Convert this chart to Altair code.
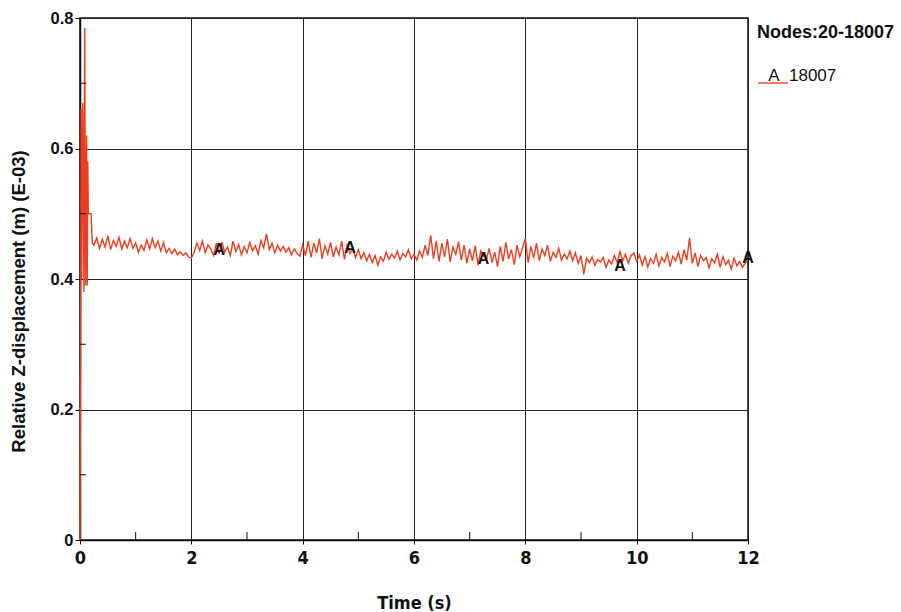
import altair as alt
import numpy as np
import pandas as pd

# Start-up transient of node 18007 (time in s, displacement in E-03 m)
transient_t = [0.0, 0.01, 0.02, 0.03, 0.05, 0.07, 0.085, 0.10, 0.12, 0.13, 0.14, 0.15, 0.20, 0.22]
transient_v = [0.0, 0.27, 0.66, 0.40, 0.67, 0.38, 0.785, 0.39, 0.62, 0.39, 0.58, 0.50, 0.50, 0.455]

# Settled response, sampled every 0.05 s from 0.25 s to 12.0 s
steady_start, steady_step = 0.25, 0.05
steady_v = [
    0.452, 0.463, 0.447, 0.461, 0.449, 0.466, 0.445, 0.459, 0.450, 0.464, 0.446, 0.458, 0.448, 0.462, 0.447,
    0.455, 0.441, 0.452, 0.444, 0.460, 0.446, 0.462, 0.448, 0.458, 0.443, 0.456, 0.440, 0.447, 0.439, 0.446, 0.437, 0.442, 0.436, 0.440, 0.434,
    0.432, 0.441, 0.455, 0.444, 0.458, 0.440, 0.452, 0.446, 0.436, 0.455, 0.439, 0.457, 0.441, 0.449, 0.436, 0.458, 0.442, 0.453, 0.437, 0.450,
    0.440, 0.456, 0.443, 0.451, 0.438, 0.459, 0.448, 0.469, 0.445, 0.455, 0.440, 0.452, 0.443, 0.450, 0.441, 0.448, 0.437, 0.446, 0.439, 0.435,
    0.452, 0.436, 0.458, 0.433, 0.455, 0.440, 0.462, 0.431, 0.451, 0.438, 0.456, 0.434, 0.449, 0.437, 0.458, 0.430, 0.452, 0.439, 0.447, 0.433,
    0.445, 0.431, 0.440, 0.428, 0.438, 0.425, 0.436, 0.421, 0.434, 0.427, 0.441, 0.430, 0.438, 0.432, 0.443, 0.429, 0.439, 0.434, 0.445, 0.431,
    0.438, 0.429, 0.443, 0.433, 0.452, 0.436, 0.467, 0.431, 0.458, 0.427, 0.455, 0.434, 0.461, 0.426, 0.449, 0.438, 0.457, 0.429, 0.452, 0.424,
    0.446, 0.428, 0.451, 0.421, 0.443, 0.435, 0.430, 0.447, 0.425, 0.441, 0.419, 0.450, 0.427, 0.456, 0.431, 0.445, 0.422, 0.452, 0.434, 0.448,
    0.462, 0.425, 0.450, 0.432, 0.455, 0.428, 0.446, 0.436, 0.452, 0.427, 0.441, 0.433, 0.447, 0.429, 0.438, 0.431, 0.443, 0.428, 0.440, 0.424,
    0.436, 0.407, 0.432, 0.425, 0.434, 0.421, 0.430, 0.426, 0.433, 0.418, 0.429, 0.423, 0.436, 0.425, 0.442, 0.428, 0.438, 0.424, 0.436, 0.440,
    0.427, 0.437, 0.421, 0.434, 0.418, 0.431, 0.424, 0.438, 0.420, 0.433, 0.426, 0.439, 0.419, 0.435, 0.428, 0.441, 0.423, 0.445, 0.429, 0.463,
    0.424, 0.440, 0.419, 0.436, 0.428, 0.433, 0.417, 0.431, 0.425, 0.438, 0.418, 0.434, 0.422, 0.429, 0.415, 0.432, 0.420, 0.427, 0.418, 0.424,
    0.431,
]

# Curve identifier letters placed along the trace
marker_t = [2.5, 4.85, 7.25, 9.7, 12.0]
marker_v = [0.444, 0.447, 0.430, 0.420, 0.432]
marker_label = "A"

# Minor tick positions
x_minor = [1, 3, 5, 7, 9, 11]
y_minor = [0.1, 0.3, 0.5, 0.7]

legend_header = "Nodes:20-18007"
legend_entry = "18007"

steady_t = [round(steady_start + i * steady_step, 3) for i in range(len(steady_v))]
curve = pd.DataFrame({"t": transient_t + steady_t, "v": transient_v + steady_v})
markers = pd.DataFrame({"t": marker_t, "v": marker_v, "label": [marker_label] * len(marker_t)})

W, H = 668, 522
RED = "#ee3d1e"
SANS = "Liberation Sans, Arial, sans-serif"
NARROW = "Liberation Sans Narrow, DejaVu Sans Condensed, Liberation Sans, sans-serif"

xscale = alt.Scale(domain=[0, 12], nice=False, zero=False)
yscale = alt.Scale(domain=[0, 0.8], nice=False)

x_axis = alt.Axis(
    values=[0, 2, 4, 6, 8, 10, 12], format="d", grid=True, gridColor="#222", gridWidth=1,
    domainColor="#111", domainWidth=1.5, tickColor="#111", tickSize=4,
    labelFont=NARROW, labelFontSize=18, labelFontWeight="bold", labelColor="#111", labelPadding=5,
    labelFlush=False,
    title="Time (s)", titleFont=NARROW, titleFontSize=18, titleFontWeight="bold", titleColor="#111",
    titleY=63, titleBaseline="middle",
)
y_axis = alt.Axis(
    values=[0, 0.2, 0.4, 0.6, 0.8], format=".1~f", grid=True, gridColor="#222", gridWidth=1,
    domainColor="#111", domainWidth=1.5, tickColor="#111", tickSize=5,
    labelFont=SANS, labelFontSize=16.5, labelFontWeight="bold", labelColor="#111", labelPadding=2,
    labelFlush=False,
    title="Relative Z-displacement (m) (E-03)", titleFont=SANS, titleFontSize=18.5,
    titleFontWeight="bold", titleColor="#111", titleX=-62, titleY=283, titleAngle=-90,
    titleAlign="center", titleBaseline="middle",
)

base_line = alt.Chart(curve).mark_line(color=RED, strokeWidth=1.4).encode(
    x=alt.X("t:Q", scale=xscale, axis=x_axis),
    y=alt.Y("v:Q", scale=yscale, axis=y_axis),
)

x_minor_ticks = alt.Chart(pd.DataFrame({"t": x_minor})).mark_rule(color="#111", strokeWidth=1).encode(
    x=alt.X("t:Q", scale=xscale),
    y=alt.value(H),
    y2=alt.value(H - 8),
)
y_minor_ticks = alt.Chart(pd.DataFrame({"v": y_minor})).mark_rule(color="#111", strokeWidth=1).encode(
    y=alt.Y("v:Q", scale=yscale),
    x=alt.value(0),
    x2=alt.value(6),
)

marker_text = alt.Chart(markers).mark_text(
    font=SANS, fontSize=16, fontWeight="bold", color="#111"
).encode(
    x=alt.X("t:Q", scale=xscale),
    y=alt.Y("v:Q", scale=yscale),
    text="label:N",
)

header = alt.Chart(pd.DataFrame({"s": [legend_header]})).mark_text(
    align="left", baseline="middle", font=SANS, fontSize=18, fontWeight="bold", color="#111"
).encode(x=alt.value(677), y=alt.value(15), text="s:N")

entry_letter = alt.Chart(pd.DataFrame({"s": [marker_label]})).mark_text(
    align="center", baseline="middle", font=SANS, fontSize=17, color="#111"
).encode(x=alt.value(694), y=alt.value(58), text="s:N")

entry_name = alt.Chart(pd.DataFrame({"s": [legend_entry]})).mark_text(
    align="left", baseline="middle", font=SANS, fontSize=17, color="#111"
).encode(x=alt.value(709), y=alt.value(58), text="s:N")

entry_swatch = alt.Chart(pd.DataFrame({"s": [legend_entry]})).mark_rule(color=RED, strokeWidth=1.4).encode(
    x=alt.value(678), x2=alt.value(708), y=alt.value(65)
)

chart = alt.layer(
    base_line, x_minor_ticks, y_minor_ticks, marker_text,
    header, entry_letter, entry_name, entry_swatch,
).properties(
    width=W, height=H,
    autosize=alt.AutoSizeParams(type="none"),
    padding={"left": 80, "top": 18, "right": 153, "bottom": 72},
    background="white",
).configure_view(stroke="#111", strokeWidth=1.5)

chart.save("out.html", embed_options={"renderer": "svg", "actions": False})
